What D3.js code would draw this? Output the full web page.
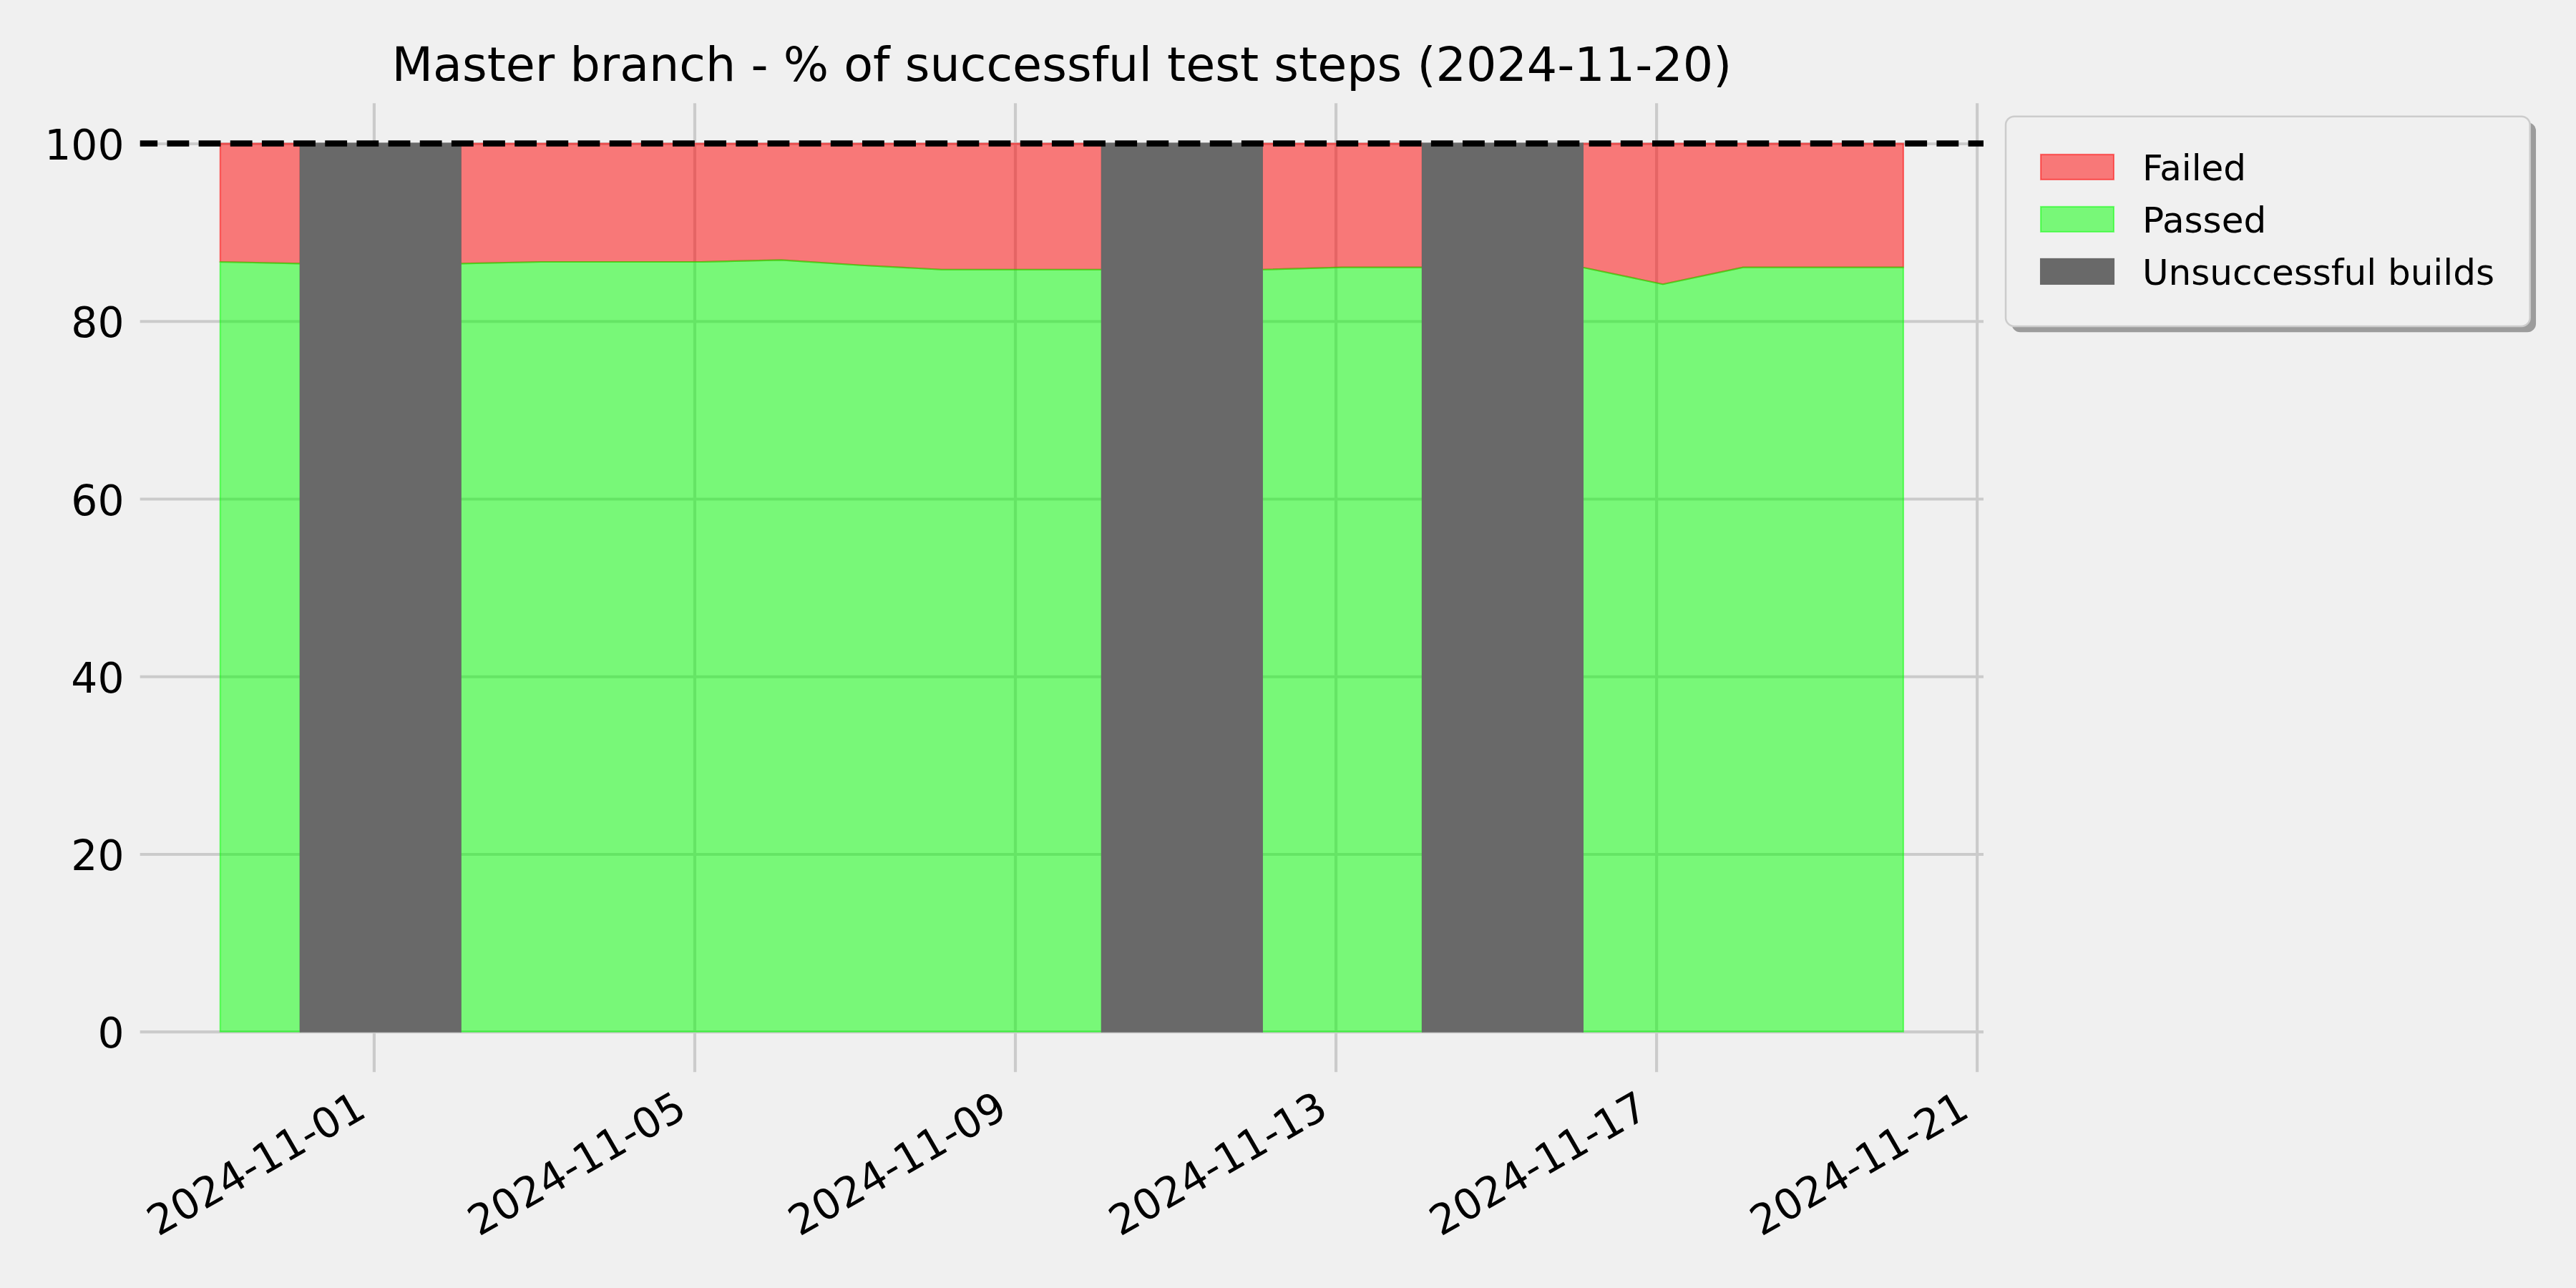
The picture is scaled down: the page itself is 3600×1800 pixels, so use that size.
<!DOCTYPE html>
<html>
<head>
<meta charset="utf-8">
<script src="https://cdn.jsdelivr.net/npm/d3@7"></script>
<style>
html,body{margin:0;padding:0;background:#f0f0f0;}
svg{display:block;font-family:"DejaVu Sans",sans-serif;}
</style>
</head>
<body>
<svg id="chart" width="3600" height="1800"></svg>
<script>
// ---------------- data ----------------
const buildDates = ["2024-10-30","2024-10-31","2024-11-01","2024-11-02","2024-11-03","2024-11-04",
  "2024-11-05","2024-11-06","2024-11-07","2024-11-08","2024-11-09","2024-11-10","2024-11-11",
  "2024-11-12","2024-11-13","2024-11-14","2024-11-15","2024-11-16","2024-11-17","2024-11-18",
  "2024-11-19","2024-11-20"];
const buildTime = "02:00";
// % passed test steps (null = unsuccessful build)
const passedPct = [86.67, 86.48, null, 86.48, 86.67, 86.67, 86.67, 86.88, 86.29, 85.80, 85.80,
  85.80, null, 85.80, 86.05, 86.05, null, 86.05, 84.15, 86.05, 86.05, 86.05];
const failedBuildDates = ["2024-11-01","2024-11-11","2024-11-15"];
const yTicks = [0, 20, 40, 60, 80, 100];
const xTickLabels = ["2024-11-01","2024-11-05","2024-11-09","2024-11-13","2024-11-17","2024-11-21"];
const seriesNames = ["Failed", "Passed", "Unsuccessful builds"];
const titleText = "Master branch - % of successful test steps (2024-11-20)";
const referenceLine = 100;

// ---------------- setup ----------------
const W = 3600, H = 1800;
const plot = {left: 195.7, right: 2772, top: 144.3, bottom: 1498.3};
const parseT = d3.utcParse("%Y-%m-%d %H:%M");
const parseD = d3.utcParse("%Y-%m-%d");
const rows = buildDates.map((d, i) => ({
  date: parseT(d + " " + buildTime),
  passed: passedPct[i],
  failed: passedPct[i] == null ? null : 100 - passedPct[i]
}));
const DAY = 864e5;
const x = d3.scaleUtc()
  .domain([new Date(+rows[0].date - DAY), new Date(+rows[rows.length-1].date + DAY)])
  .range([plot.left, plot.right]);
const y = d3.scaleLinear().domain([-4.56, 104.53]).range([plot.bottom, plot.top]);

const svg = d3.select("#chart");
svg.append("rect").attr("width", W).attr("height", H).attr("fill", "#f0f0f0");

const GRID = "#cbcbcb", GW = 4.17;
// grid (via axes)
const gy = svg.append("g").attr("transform", `translate(${plot.left},0)`)
  .call(d3.axisLeft(y).tickValues(yTicks).tickSize(-(plot.right - plot.left)).tickFormat(""));
gy.select(".domain").remove();
gy.selectAll("line").attr("stroke", GRID).attr("stroke-width", GW);

const xTickDates = xTickLabels.map(parseD);
const gx = svg.append("g").attr("transform", `translate(0,${plot.bottom})`)
  .call(d3.axisBottom(x).tickValues(xTickDates).tickSize(-(plot.bottom - plot.top)).tickFormat(""));
gx.select(".domain").remove();
gx.selectAll("line").attr("stroke", GRID).attr("stroke-width", GW);

// ---------------- areas ----------------
const defined = d => d.passed != null;
const redArea = d3.area().defined(defined).x(d => x(d.date))
  .y0(d => y(d.passed)).y1(() => y(100));
const greenArea = d3.area().defined(defined).x(d => x(d.date))
  .y0(() => y(0)).y1(d => y(d.passed));

svg.append("path").datum(rows).attr("d", redArea)
  .attr("fill", "rgba(255,0,0,0.5)").attr("stroke", "rgba(255,0,0,0.5)").attr("stroke-width", 2.1);
svg.append("path").datum(rows).attr("d", greenArea)
  .attr("fill", "rgba(0,255,0,0.5)").attr("stroke", "rgba(0,255,0,0.5)").attr("stroke-width", 2.1);

// unsuccessful builds: span from previous build to next build
const failedSpans = failedBuildDates.map(fd => {
  const i = buildDates.indexOf(fd);
  return {start: rows[i-1].date, end: rows[i+1].date};
});
svg.append("g").selectAll("rect").data(failedSpans).join("rect")
  .attr("x", d => x(d.start)).attr("width", d => x(d.end) - x(d.start))
  .attr("y", y(100)).attr("height", y(0) - y(100))
  .attr("fill", "#696969").attr("stroke", "#696969").attr("stroke-width", 2.1);

// reference dashed line
svg.append("line").attr("x1", plot.left).attr("x2", plot.right)
  .attr("y1", y(referenceLine)).attr("y2", y(referenceLine))
  .attr("stroke", "#000").attr("stroke-width", 8.33)
  .attr("stroke-dasharray", "30.83 13.33").attr("stroke-dashoffset", 6.4);

// ---------------- tick labels ----------------
const TICKFS = 58.3;
const ly = svg.append("g").attr("transform", `translate(${plot.left},0)`)
  .call(d3.axisLeft(y).tickValues(yTicks).tickSize(0).tickPadding(22.2).tickFormat(d3.format("d")));
ly.select(".domain").remove();
ly.selectAll("text").attr("font-size", TICKFS).attr("font-family", "DejaVu Sans")
  .attr("fill", "#000").attr("dy", "0.38em");

const lx = svg.append("g").attr("transform", `translate(0,${plot.bottom})`)
  .call(d3.axisBottom(x).tickValues(xTickDates).tickSize(0).tickFormat((d, i) => xTickLabels[i]));
lx.select(".domain").remove();
lx.selectAll("text").attr("font-size", TICKFS).attr("font-family", "DejaVu Sans").attr("fill", "#000")
  .attr("y", null).attr("dy", null).attr("text-anchor", "end")
  .attr("transform", "translate(-8.4,60.7) rotate(-30)");

// ---------------- title ----------------
svg.append("text").attr("x", (plot.left + plot.right) / 2).attr("y", 113.3)
  .attr("text-anchor", "middle").attr("font-size", 66.7).attr("fill", "#000").text(titleText);

// ---------------- legend ----------------
const lg = {x: 2803, y: 162.7, w: 732.7, h: 293.3};
svg.append("rect").attr("x", lg.x + 8.33).attr("y", lg.y + 8.33).attr("width", lg.w).attr("height", lg.h)
  .attr("rx", 12).attr("fill", "#9c9c9c");
svg.append("rect").attr("x", lg.x).attr("y", lg.y).attr("width", lg.w).attr("height", lg.h)
  .attr("rx", 12).attr("fill", "#f0f0f0").attr("stroke", "#cccccc").attr("stroke-width", 2.5);
const swatches = [
  {fill: "rgba(255,0,0,0.5)", stroke: "rgba(255,0,0,0.5)"},
  {fill: "rgba(0,255,0,0.5)", stroke: "rgba(0,255,0,0.5)"},
  {fill: "#696969", stroke: "#696969"}
];
const LFS = 50;
seriesNames.forEach((name, i) => {
  const cy = 233.4 + i * 73;
  svg.append("rect").attr("x", 2852).attr("y", cy - 17.5).attr("width", 102).attr("height", 35)
    .attr("fill", swatches[i].fill).attr("stroke", swatches[i].stroke).attr("stroke-width", 2.1);
  svg.append("text").attr("x", 2994).attr("y", cy + 18.2).attr("font-size", LFS)
    .attr("fill", "#000").text(name);
});
</script>
</body>
</html>
